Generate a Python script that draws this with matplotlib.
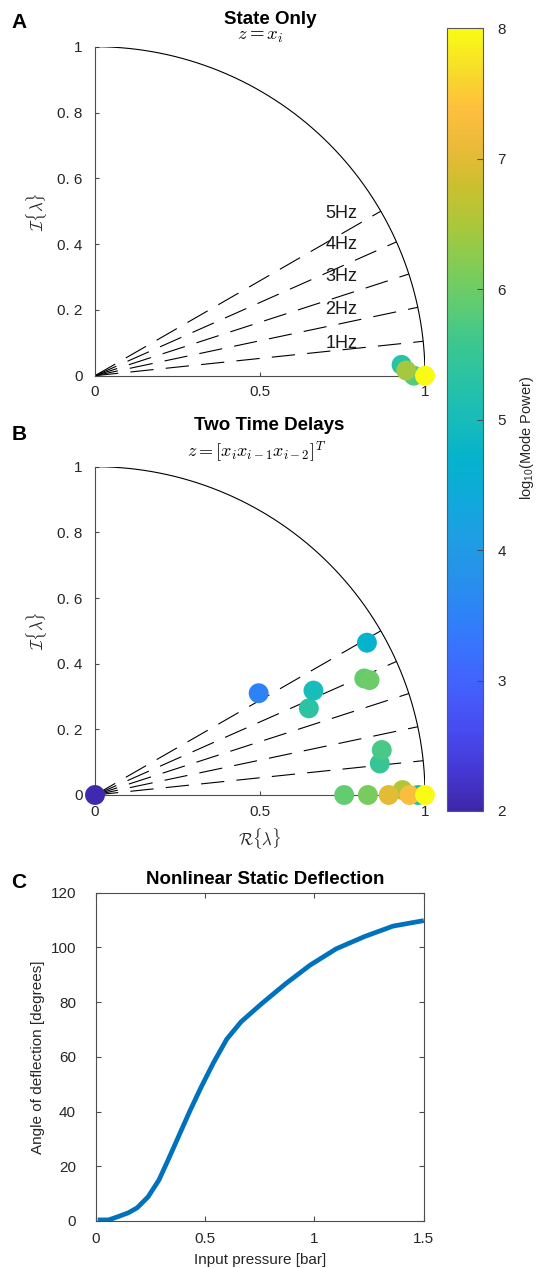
import numpy as np
import matplotlib
matplotlib.use("Agg")
import matplotlib.pyplot as plt
from matplotlib.colors import LinearSegmentedColormap, Normalize
from matplotlib.cm import ScalarMappable

plt.rcParams['font.family'] = ['Liberation Sans', 'DejaVu Sans']
plt.rcParams['font.sans-serif'] = ['Liberation Sans']
plt.rcParams['mathtext.fontset'] = 'cm'

# guide rays: angle = 2*pi*f*dt
freqs = [1, 2, 3, 4, 5]
dt = 1 / 60

# panel A - state only (real, imag, log10 power)
a_re = [0.929, 0.966, 0.943, 1.0]
a_im = [0.033, 0.0, 0.016, 0.0]
a_pow = [5.3, 5.8, 6.45, 8.0]

# panel B - two time delays
b_re = [0.0, 0.496, 0.648, 0.662, 0.824, 0.816, 0.832, 0.863, 0.869,
        0.932, 0.979, 0.755, 0.827, 0.890, 0.953, 1.0]
b_im = [0.0, 0.310, 0.264, 0.318, 0.464, 0.355, 0.350, 0.096, 0.137,
        0.015, 0.0, 0.0, 0.0, 0.0, 0.0, 0.0]
b_pow = [2.05, 3.5, 5.35, 5.0, 4.7, 5.9, 6.0, 5.5, 5.7,
         6.55, 5.0, 5.9, 6.1, 7.0, 7.3, 8.0]

# panel C - static deflection curve
pressure = [0.01, 0.06, 0.10, 0.15, 0.19, 0.24, 0.29, 0.33, 0.38, 0.43, 0.48,
            0.54, 0.60, 0.665, 0.76, 0.87, 0.98, 1.10, 1.23, 1.36, 1.50]
deflection = [0.4, 0.4, 1.5, 3.0, 4.8, 8.8, 15.0, 22.0, 31.0, 40.0, 48.5,
              58.0, 66.5, 72.8, 79.5, 86.8, 93.5, 99.5, 104.0, 107.8, 109.8]

# rough parula
parula_pts = [
    (0.00, (0.2422, 0.1504, 0.6603)), (0.05, (0.2700, 0.2200, 0.8300)),
    (0.10, (0.2810, 0.2910, 0.9340)), (0.15, (0.2700, 0.3650, 0.9850)),
    (0.20, (0.2300, 0.4400, 0.9950)), (0.25, (0.1800, 0.5100, 0.9700)),
    (0.30, (0.1500, 0.5700, 0.9200)), (0.35, (0.1200, 0.6200, 0.8900)),
    (0.40, (0.0600, 0.6650, 0.8600)), (0.45, (0.0200, 0.7000, 0.8000)),
    (0.50, (0.0900, 0.7350, 0.7300)), (0.55, (0.1600, 0.7600, 0.6500)),
    (0.60, (0.2400, 0.7800, 0.5600)), (0.65, (0.3800, 0.8000, 0.4400)),
    (0.70, (0.5200, 0.8000, 0.3300)), (0.75, (0.6700, 0.7800, 0.2300)),
    (0.80, (0.8000, 0.7500, 0.1800)), (0.85, (0.9200, 0.7300, 0.2200)),
    (0.90, (0.9950, 0.7500, 0.2400)), (0.95, (0.9700, 0.8700, 0.1600)),
    (1.00, (0.9769, 0.9839, 0.0805))]
parula = LinearSegmentedColormap.from_list('parula', parula_pts)
norm = Normalize(2, 8)

W, H = 540, 1268
fig = plt.figure(figsize=(W / 100, H / 100), dpi=100)


def rect(l, t, r, b):
    return [l / W, 1 - b / H, (r - l) / W, (b - t) / H]


def unit_panel(ax, re, im, pw, hz_labels=False):
    th = np.linspace(0, np.pi / 2, 200)
    ax.plot(np.cos(th), np.sin(th), color='k', lw=0.8)
    ang = 2 * np.pi * np.array(freqs) * dt
    for f, a in zip(freqs, ang):
        ax.plot([0, np.cos(a)], [0, np.sin(a)], color='k', lw=0.8,
                dashes=(21, 11))
        if hz_labels:
            ax.text(0.698, np.sin(a) - 0.008, f"{f}Hz", fontsize=13,
                    va='center', ha='left', color='0.1')
    ax.scatter(re, im, c=pw, cmap=parula, norm=norm, s=205,
               edgecolors='none', clip_on=False, zorder=5)
    ax.set_xlim(0, 1)
    ax.set_ylim(0, 1)
    for s in ['top', 'right']:
        ax.spines[s].set_visible(False)
    for s in ['left', 'bottom']:
        ax.spines[s].set_color('0.3')
        ax.spines[s].set_linewidth(0.8)
    ax.set_xticks([0, 0.5, 1], ['0', '0.5', '1'])
    ax.set_yticks([0, 0.2, 0.4, 0.6, 0.8, 1],
                  ['0', '0. 2', '0. 4', '0. 6', '0. 8', '1'])
    ax.tick_params(direction='in', length=3, width=0.8, labelsize=11,
                   colors='0.3', labelcolor='0.15')
    ax.tick_params(axis='y', pad=9)
    ax.tick_params(axis='x', pad=7)
    ax.set_ylabel(r'$\mathcal{I}\{\lambda\}$', fontsize=12, labelpad=6,
                  color='0.15')


axA = fig.add_axes(rect(95, 46.7, 425, 375.7))
unit_panel(axA, a_re, a_im, a_pow, hz_labels=True)

axB = fig.add_axes(rect(95, 466.7, 425, 795))
unit_panel(axB, b_re, b_im, b_pow)
axB.set_xlabel(r'$\mathcal{R}\{\lambda\}$', fontsize=12, labelpad=5,
               color='0.15')

axC = fig.add_axes(rect(95.5, 892.7, 423.8, 1221))
axC.plot(pressure, deflection, color=(0, 0.447, 0.741), lw=3.4,
         solid_capstyle='butt', solid_joinstyle='round')
axC.set_xlim(0, 1.5)
axC.set_ylim(0, 120)
axC.set_xticks([0, 0.5, 1, 1.5], ['0', '0.5', '1', '1.5'])
axC.set_yticks(range(0, 121, 20))
axC.tick_params(direction='in', length=3.5, width=0.8, labelsize=11,
                top=True, right=True, colors='0.3', labelcolor='0.15')
axC.tick_params(axis='y', pad=14)
axC.tick_params(axis='x', pad=8)
for s in axC.spines.values():
    s.set_color('0.3')
    s.set_linewidth(0.8)
axC.set_xlabel('Input pressure [bar]', fontsize=11, labelpad=5, color='0.15')
axC.set_ylabel('Angle of deflection [degrees]', fontsize=11, labelpad=4,
               color='0.15')

# colorbar
cax = fig.add_axes(rect(446.7, 28.3, 483.3, 811))
sm = ScalarMappable(norm=norm, cmap=parula)
cb = fig.colorbar(sm, cax=cax, ticks=range(2, 9))
cb.outline.set_edgecolor('0.35')
cb.outline.set_linewidth(0.8)
cax.tick_params(direction='in', length=4, width=0.8, labelsize=11,
                colors='0.3', labelcolor='0.15', pad=10)
fig.text(527 / W, 1 - 438 / H, r'log$_{10}$(Mode Power)', rotation=90,
         fontsize=10.5, ha='center', va='center', color='0.15',
         math_fontfamily='custom')


# titles and panel letters
def ftext(x, y, s, **kw):
    fig.text(x / W, 1 - y / H, s, ha='center', va='center', **kw)


ftext(270, 19, 'State Only', fontsize=13.5, fontweight='bold')
ftext(260, 36, r'$z = x_i$', fontsize=13.5)
ftext(269, 426, 'Two Time Delays', fontsize=13.5, fontweight='bold')
ftext(257, 452, r'$z = [x_i x_{i-1} x_{i-2}]^T$', fontsize=13)
ftext(265, 879, 'Nonlinear Static Deflection', fontsize=13.5,
      fontweight='bold')
ftext(19, 23, 'A', fontsize=15, fontweight='bold')
ftext(19, 435, 'B', fontsize=15, fontweight='bold')
ftext(19, 882, 'C', fontsize=15, fontweight='bold')

fig.savefig('out.png', dpi=100)
